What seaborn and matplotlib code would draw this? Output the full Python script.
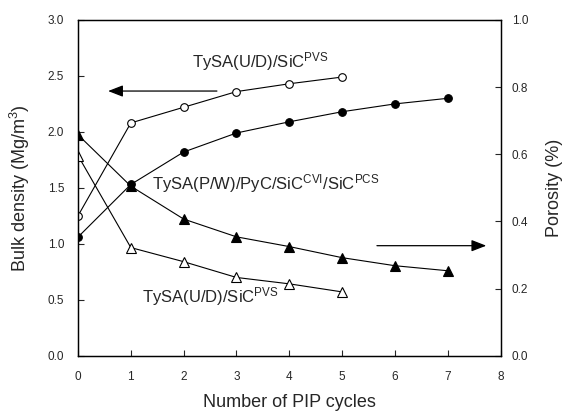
import numpy as np
import pandas as pd
import matplotlib
matplotlib.use("Agg")
import matplotlib.pyplot as plt
import seaborn as sns

# ---------------------------------------------------------------
# data
# ---------------------------------------------------------------
cycles_ud = [0, 1, 2, 3, 4, 5]
cycles_pw = [0, 1, 2, 3, 4, 5, 6, 7]

density_ud = [1.25, 2.08, 2.22, 2.36, 2.43, 2.49]
density_pw = [1.06, 1.53, 1.82, 1.99, 2.09, 2.18, 2.25, 2.30]

porosity_ud = [0.596, 0.322, 0.280, 0.233, 0.214, 0.190]
porosity_pw = [0.658, 0.505, 0.407, 0.354, 0.325, 0.292, 0.268, 0.253]

x_ticks = [0, 1, 2, 3, 4, 5, 6, 7, 8]
left_ticks = [0.0, 0.5, 1.0, 1.5, 2.0, 2.5, 3.0]
right_ticks = [0.0, 0.2, 0.4, 0.6, 0.8, 1.0]

label_ud = "TySA(U/D)/SiC$^{\\rm PVS}$"
label_pw = "TySA(P/W)/PyC/SiC$^{\\rm CVI}$/SiC$^{\\rm PCS}$"

# ---------------------------------------------------------------
# style
# ---------------------------------------------------------------
sns.set_style("ticks")
plt.rcParams["font.family"] = ["Liberation Sans", "DejaVu Sans"]
plt.rcParams["mathtext.fontset"] = "custom"
plt.rcParams["mathtext.rm"] = "Liberation Sans"
plt.rcParams["mathtext.it"] = "Liberation Sans:italic"
plt.rcParams["mathtext.bf"] = "Liberation Sans:bold"

fig = plt.figure(figsize=(5.62, 4.13), dpi=100)
ax = fig.add_axes([0.1388, 0.1388, 0.7518, 0.8128])
ax2 = ax.twinx()

line_kw = dict(color="black", linewidth=0.8, markeredgecolor="black",
               markeredgewidth=0.8)

# bulk density (left axis)
sns.lineplot(x=cycles_ud, y=density_ud, ax=ax, marker="o", markersize=5.5,
             markerfacecolor="white", **line_kw)
sns.lineplot(x=cycles_pw, y=density_pw, ax=ax, marker="o", markersize=5.5,
             markerfacecolor="black", **line_kw)

# porosity (right axis)
sns.lineplot(x=cycles_ud, y=porosity_ud, ax=ax2, marker="^", markersize=7,
             markerfacecolor="white", **line_kw)
sns.lineplot(x=cycles_pw, y=porosity_pw, ax=ax2, marker="^", markersize=7,
             markerfacecolor="black", **line_kw)

ax.set_xlim(0, 8)
ax.set_ylim(0, 3.0)
ax2.set_ylim(0, 1.0)
ax.set_xticks(x_ticks)
ax.set_yticks(left_ticks)
ax.set_yticklabels([f"{v:.1f}" for v in left_ticks])
ax2.set_yticks(right_ticks)
ax2.set_yticklabels([f"{v:.1f}" for v in right_ticks])

ax.tick_params(axis="both", direction="in", length=4, width=0.8,
               labelsize=8.5, pad=11)
ax.tick_params(axis="y", pad=10)
ax2.tick_params(axis="y", direction="in", length=4, width=0.8,
                labelsize=8.5, pad=8)
ax.tick_params(top=False)

for a in (ax, ax2):
    for s in a.spines.values():
        s.set_visible(True)
        s.set_linewidth(0.9)
        s.set_color("black")

ax.set_xlabel("Number of PIP cycles", fontsize=13, labelpad=8)
ax.set_ylabel("Bulk density (Mg/m$^3$)", fontsize=13, labelpad=11)
ax2.set_ylabel("Porosity (%)", fontsize=13, labelpad=13)

# arrows showing which axis each group belongs to
arrow_kw = dict(arrowstyle="-|>,head_length=0.9,head_width=0.35",
                color="black", lw=0.9, shrinkA=0, shrinkB=0)
ax.annotate("", xy=(0.57, 2.365), xytext=(2.63, 2.365), arrowprops=arrow_kw)
ax.annotate("", xy=(7.73, 0.983), xytext=(5.66, 0.983), arrowprops=arrow_kw)

# curve labels
ax.text(2.15, 2.63, label_ud, fontsize=12, va="center", ha="left")
ax.text(1.40, 1.54, label_pw, fontsize=12, va="center", ha="left")
ax.text(1.21, 0.527, label_ud, fontsize=12, va="center", ha="left")

fig.savefig("out.png", dpi=100)
